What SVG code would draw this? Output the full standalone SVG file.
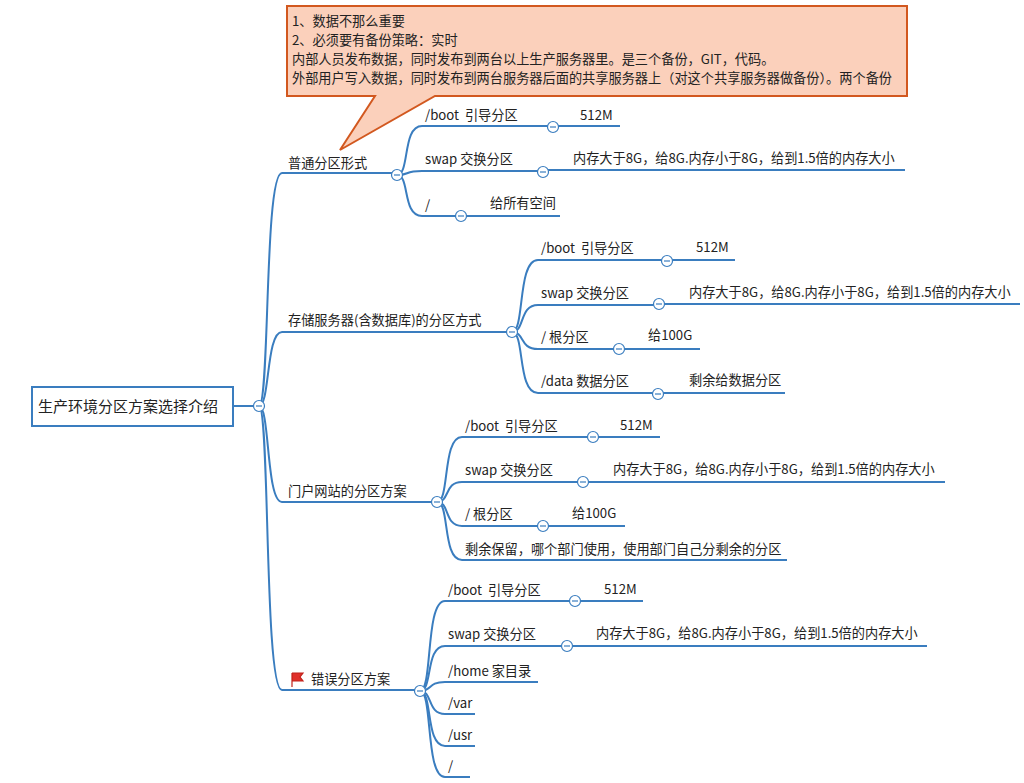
<svg xmlns="http://www.w3.org/2000/svg" width="1024" height="783" viewBox="0 0 1024 783">
<style>
text{font-family:"Noto Sans CJK SC","Liberation Sans",sans-serif;font-size:13.2px;fill:#222;white-space:pre}
.c{fill:none;stroke:#3a7dbf;stroke-width:2}
.t{fill:#fff;stroke:#3a7dbf;stroke-width:1.2}
.m{stroke:#3a7dbf;stroke-width:1.2}
</style>
<defs>
<g id="tg"><circle class="t" r="5.5"/><line class="m" x1="-3" y1="0" x2="3" y2="0"/></g>
</defs>
<rect width="1024" height="783" fill="#fff"/>
<g id="connectors">
<path class="c" d="M233,406H259"/>
<path class="c" d="M259,406C270,406 264,173 282,173H397"/>
<path class="c" d="M259,406C270,406 266,332 282,332H512"/>
<path class="c" d="M259,406C270,406 266,502 282,502H437"/>
<path class="c" d="M259,406C270,406 264,690 282,690H420"/>
<path class="c" d="M397,175C410,175 402,126 422,126H620"/>
<path class="c" d="M397,175C410,175 404,171 422,171H543"/>
<path class="c" d="M543,170H905"/>
<path class="c" d="M397,175C410,175 402,216 422,216H560"/>
<path class="c" d="M512,332C525,332 517,260 538,260H735"/>
<path class="c" d="M512,332C525,332 519,305 538,305H659"/>
<path class="c" d="M659,304H1020"/>
<path class="c" d="M512,332C525,332 519,349 538,349H700"/>
<path class="c" d="M512,332C525,332 517,393 538,393H785"/>
<path class="c" d="M437,502C450,502 442,437 462,437H660"/>
<path class="c" d="M437,502C450,502 444,482 462,482H583"/>
<path class="c" d="M583,482H945"/>
<path class="c" d="M437,502C450,502 444,526 462,526H625"/>
<path class="c" d="M437,502C450,502 442,560 462,560H787"/>
<path class="c" d="M420,691C433,691 425,601 445,601H643"/>
<path class="c" d="M420,691C433,691 425,646 445,646H567"/>
<path class="c" d="M567,646H927"/>
<path class="c" d="M420,691C433,691 427,682 445,682H538"/>
<path class="c" d="M420,691C433,691 427,714 445,714H475"/>
<path class="c" d="M420,691C433,691 425,746 445,746H475"/>
<path class="c" d="M420,691C433,691 425,777 445,777H470"/>
</g>
<g id="callout">
<path d="M287,6H907V96H435L340,150L375,96H287Z" fill="#fbd0bb" stroke="#d2581f" stroke-width="2"/>
<text x="292" y="26">1、数据不那么重要</text>
<text x="292" y="45">2、必须要有备份策略：实时</text>
<text x="292" y="64">内部人员发布数据，同时发布到两台以上生产服务器里。是三个备份，GIT，代码。</text>
<text x="292" y="83">外部用户写入数据，同时发布到两台服务器后面的共享服务器上（对这个共享服务器做备份）。两个备份</text>
</g>
<g id="root"><rect x="32" y="387" width="201" height="39" fill="#fff" stroke="#3a7dbf" stroke-width="2"/><text x="38" y="412" style="font-size:15px">生产环境分区方案选择介绍</text></g>
<g id="b1"><text x="288" y="168">普通分区形式</text></g>
<g id="b1a"><text x="425" y="120">/boot  引导分区</text><text x="580" y="120">512M</text></g>
<g id="b1b"><text x="425" y="164">swap 交换分区</text><text x="573" y="163">内存大于8G，给8G.内存小于8G，给到1.5倍的内存大小</text></g>
<g id="b1c"><text x="425" y="210">/</text><text x="490" y="208">给所有空间</text></g>
<g id="b2"><text x="288" y="325">存储服务器(含数据库)的分区方式</text></g>
<g id="b2a"><text x="541" y="253">/boot  引导分区</text><text x="696" y="252">512M</text></g>
<g id="b2b"><text x="541" y="298">swap 交换分区</text><text x="689" y="297">内存大于8G，给8G.内存小于8G，给到1.5倍的内存大小</text></g>
<g id="b2c"><text x="541" y="342">/ 根分区</text><text x="648" y="340">给100G</text></g>
<g id="b2d"><text x="541" y="386">/data 数据分区</text><text x="689" y="385">剩余给数据分区</text></g>
<g id="b3"><text x="288" y="496">门户网站的分区方案</text></g>
<g id="b3a"><text x="465" y="431">/boot  引导分区</text><text x="620" y="430">512M</text></g>
<g id="b3b"><text x="465" y="475">swap 交换分区</text><text x="613" y="474">内存大于8G，给8G.内存小于8G，给到1.5倍的内存大小</text></g>
<g id="b3c"><text x="465" y="519">/ 根分区</text><text x="572" y="518">给100G</text></g>
<g id="b3d"><text x="465" y="554">剩余保留，哪个部门使用，使用部门自己分剩余的分区</text></g>
<g id="b4"><path d="M292,687V673M292,673H303L300,677L303,681H292" fill="#e0302a" stroke="#c0201a" stroke-width="1.2"/><text x="311" y="684">错误分区方案</text></g>
<g id="b4a"><text x="448" y="595">/boot  引导分区</text><text x="604" y="594">512M</text></g>
<g id="b4b"><text x="448" y="639">swap 交换分区</text><text x="596" y="638">内存大于8G，给8G.内存小于8G，给到1.5倍的内存大小</text></g>
<g id="b4c"><text x="448" y="676">/home 家目录</text></g>
<g id="b4d"><text x="448" y="708">/var</text></g>
<g id="b4e"><text x="448" y="740">/usr</text></g>
<g id="b4f"><text x="448" y="771">/</text></g>
<g id="toggles">
<use href="#tg" x="259" y="406"/><use href="#tg" x="397" y="175"/><use href="#tg" x="512" y="332"/><use href="#tg" x="437" y="502"/><use href="#tg" x="420" y="691"/>
<use href="#tg" x="553" y="127"/><use href="#tg" x="543" y="172"/><use href="#tg" x="461" y="216"/>
<use href="#tg" x="667" y="261"/><use href="#tg" x="659" y="304"/><use href="#tg" x="619" y="349"/><use href="#tg" x="658" y="394"/>
<use href="#tg" x="593" y="437"/><use href="#tg" x="583" y="482"/><use href="#tg" x="543" y="526"/>
<use href="#tg" x="575" y="601"/><use href="#tg" x="567" y="646"/>
</g>
</svg>
